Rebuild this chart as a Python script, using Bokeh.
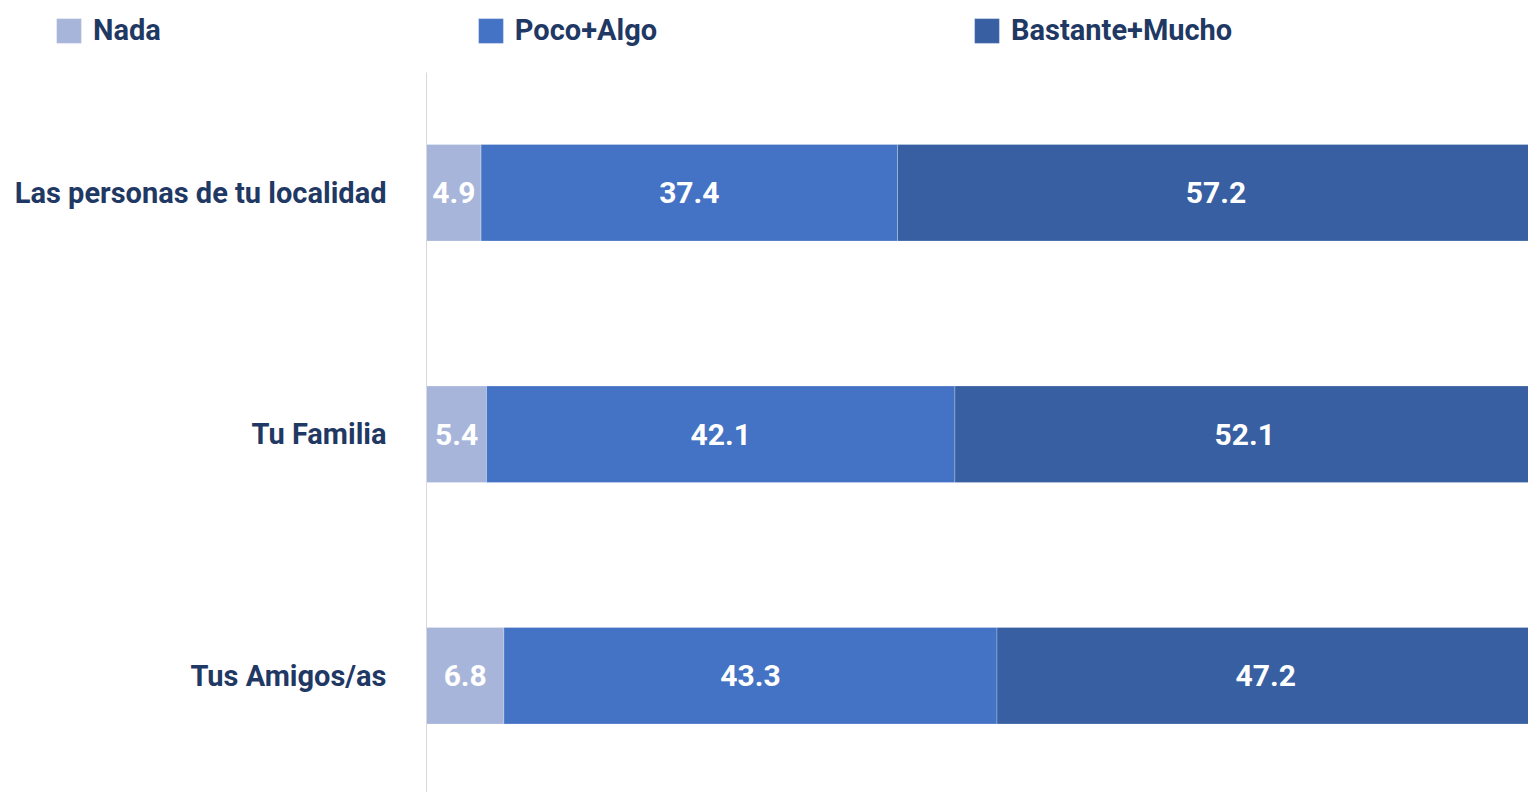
from bokeh.plotting import figure
from bokeh.models import ColumnDataSource, Range1d, FixedTicker
from bokeh.core.properties import value
from bokeh.embed import file_html
from bokeh.resources import INLINE

categories = ["Las personas de tu localidad", "Tu Familia", "Tus Amigos/as"]
series = ["Nada", "Poco+Algo", "Bastante+Mucho"]
nada = [4.9, 5.4, 6.8]
poco_algo = [37.4, 42.1, 43.3]
bastante_mucho = [57.2, 52.1, 47.2]
colors = ["#A8B5DA", "#4472C4", "#375FA2"]

FONT = "Roboto"
NAVY = "#1F3864"
LABEL_SIZE = "29px"
VALUE_SIZE = "30px"

W, H = 1528, 792
AXIS_X = 426          # pixel where the bars start
TOP = 71.5            # pixel where the category area starts
PX_PER_UNIT = 11.08   # horizontal scale (pixels per percent)
BAND = 241.5          # pixels per category band

ypos = list(range(len(categories)))
rows = list(zip(nada, poco_algo, bastante_mucho))
totals = [sum(r) for r in rows]
# 100%-stacked: each row is shown as shares of its own total
shares = {name: [vals[i] / totals[i] * 100 for i in range(len(categories))]
          for name, vals in zip(series, (nada, poco_algo, bastante_mucho))}
src = ColumnDataSource(dict(y=ypos, **shares))

y_top = -0.5 - TOP / BAND
y_bottom = -0.5 + (H - TOP) / BAND

p = figure(width=W, height=H, output_backend="svg", toolbar_location=None,
           x_range=Range1d(-AXIS_X / PX_PER_UNIT, (W - AXIS_X) / PX_PER_UNIT),
           y_range=Range1d(y_bottom, y_top),
           min_border=0, min_border_left=0, min_border_right=0,
           min_border_top=0, min_border_bottom=0)

p.hbar_stack(series, y="y", height=0.4, color=colors, line_color="white",
             line_alpha=0.25, line_width=1, source=src, legend_label=series)

xs, ys, txt = [], [], []
for i in range(len(categories)):
    left = 0.0
    for name, vals in zip(series, (nada, poco_algo, bastante_mucho)):
        s = shares[name][i]
        xs.append(left + s / 2)
        ys.append(ypos[i])
        txt.append(f"{vals[i]:.1f}")
        left += s
p.text(x=xs, y=ys, text=txt, text_align="center", text_baseline="middle",
       text_color="white", text_font=value(FONT), text_font_style="bold",
       text_font_size=VALUE_SIZE)

p.xaxis.visible = False
p.xgrid.visible = False
p.ygrid.visible = False
p.outline_line_color = None

ax = p.yaxis[0]
ax.fixed_location = 0
ax.bounds = (-0.5, y_bottom)
ax.ticker = FixedTicker(ticks=ypos)
ax.major_label_overrides = {i: c for i, c in zip(ypos, categories)}
ax.axis_line_color = "#D9D9D9"
ax.axis_line_width = 1
ax.major_tick_line_color = None
ax.major_tick_out = 0
ax.major_tick_in = 0
ax.minor_tick_line_color = None
ax.major_label_standoff = 40
ax.major_label_text_font = FONT
ax.major_label_text_font_style = "bold"
ax.major_label_text_font_size = LABEL_SIZE
ax.major_label_text_color = NAVY

lg = p.legend[0]
lg.orientation = "horizontal"
lg.location = (53, H - 47)
lg.border_line_color = None
lg.background_fill_alpha = 0
lg.padding = 0
lg.margin = 0
lg.spacing = 314
lg.glyph_width = 31
lg.glyph_height = 31
lg.label_height = 31
lg.label_standoff = 9
lg.label_text_font = FONT
lg.label_text_font_style = "bold"
lg.label_text_font_size = LABEL_SIZE
lg.label_text_color = NAVY

open("out.html", "w").write(file_html(p, INLINE))
